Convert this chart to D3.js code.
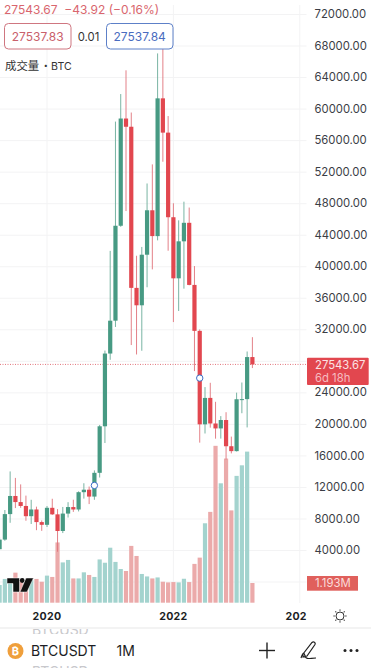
<!DOCTYPE html>
<html lang="en">
<head>
<meta charset="UTF-8">
<title>BTCUSDT 1M</title>
<script src="https://d3js.org/d3.v7.min.js"></script>
<style>
    html, body { margin: 0; padding: 0; background: #fff; overflow: hidden; }
    svg { display: block; }
    text { font-family: Inter, Roboto, "Noto Sans CJK SC", sans-serif; white-space: pre; }
    .price-axis text { font-size: 11.3px; fill: #3a3d45; }
    .time-axis text { font-size: 10.6px; font-weight: 700; fill: #1c1e24; letter-spacing: 0.3px; }
</style>
</head>
<body>
<div id="chart"></div>
<script>
// month index, 0 = Jan 2020
const months = d3.range(-9, 40);
const opens = [4102, 5320, 8555, 10854, 10080, 9587, 8289, 9140, 7541, 7195, 9352, 8523, 6412, 8620, 9448, 9138, 11335, 11649, 10776, 13791, 19695, 28923, 33092, 45135, 58739, 57697, 37253, 35045, 41461, 47100, 43820, 61300, 56950, 46217, 38466, 43160, 45510, 37630, 31801, 19942, 23296, 20048, 19423, 20490, 17165, 16542, 23125, 23142, 28478];
const highs = [5600, 9074, 13970, 13147, 12325, 10900, 10370, 9500, 7750, 9578, 10500, 9188, 9460, 10067, 10380, 11444, 12468, 12050, 14100, 19863, 29300, 41950, 58352, 61844, 64854, 59500, 41330, 42448, 50500, 52920, 67000, 69000, 59053, 47990, 45821, 48189, 47444, 40023, 31986, 24668, 25214, 22799, 20988, 21480, 18387, 23960, 25250, 29184, 31000];
const lows = [4096, 5173, 7450, 9320, 9350, 7710, 7300, 6515, 6430, 6914, 8445, 3782, 6150, 8117, 8833, 8893, 10518, 9825, 10371, 13195, 17572, 28130, 32296, 45000, 47000, 30000, 28805, 29278, 37332, 39600, 43283, 53256, 41967, 32917, 34322, 37155, 37578, 26700, 17622, 18781, 19520, 18125, 18132, 15476, 16256, 16499, 21351, 19549, 27080];
const closes = [5320, 8555, 10854, 10080, 9587, 8289, 9140, 7541, 7195, 9353, 8523, 6410, 8620, 9448, 9138, 11335, 11649, 10776, 13791, 19695, 28923, 33092, 45135, 58740, 57694, 37254, 35045, 41462, 47100, 43824, 61299, 56950, 46217, 38466, 43160, 45510, 37630, 31801, 19942, 23293, 20050, 19423, 20490, 17164, 16542, 23125, 23142, 28478, 27543.67];
// volume in millions (BTC)
const volumes = [1.07, 1.44, 1.45, 1.82, 1.3, 1.2, 1.37, 1.44, 1.27, 1.64, 1.56, 3.65, 2.44, 2.59, 1.47, 1.47, 1.84, 1.68, 1.56, 2.62, 2.42, 3.33, 2.47, 2.04, 1.92, 3.44, 2.83, 1.74, 1.59, 1.47, 1.53, 1.27, 1.23, 1.25, 1.23, 1.45, 1.25, 2.35, 2.73, 4.81, 5.5, 9.5, 7.23, 8.73, 5.59, 7.68, 8.32, 9.15, 1.193];
const priceTicks = d3.range(0, 72001, 4000);
// these two ticks are hidden behind the price and volume tags
const hiddenTicks = [0, 28000];
const yearTicks = [0, 24, 48];
const yearLabels = ["2020", "2022", "2024"];
// the two blue markers sit on these months and prices
const markerMonths = [9, 29];
const markerPrices = [12190, 25810];

const lastPrice = 27543.67;
const width = 374, height = 668;
const upColor = "#479a83", downColor = "#e2474f";
const upVol = "#a3d3ce", downVol = "#ebaaaa";
const gridColor = "#f3f3f4";
const axisLeft = 306.5;

const svg = d3.select("#chart").append("svg")
    .attr("width", width)
    .attr("height", height);

const x = d3.scaleLinear().domain([0, 24]).range([47, 173.4]);
const y = d3.scaleLinear().domain([4000, 72000]).range([550, 14]);
const yVol = d3.scaleLinear().domain([0, 1.193]).range([602.7, 583]);

const clip = svg.append("clipPath").attr("id", "plot");
clip.append("rect").attr("x", 0).attr("y", 0).attr("width", axisLeft).attr("height", 603);

// grid
svg.append("g")
    .selectAll("line")
    .data(yearTicks)
    .enter()
    .append("line")
    .attr("x1", d => x(d))
    .attr("x2", d => x(d))
    .attr("y1", 5)
    .attr("y2", 603)
    .attr("stroke", gridColor);

// price axis, ticks double as gridlines
const priceAxis = svg.append("g")
    .attr("class", "price-axis")
    .attr("transform", `translate(${axisLeft},0)`)
    .call(d3.axisLeft(y).tickValues(priceTicks).tickSize(axisLeft).tickPadding(0)
        .tickFormat(d => hiddenTicks.includes(d) ? "" : d3.format(".2f")(d)));
priceAxis.select(".domain").remove();
priceAxis.selectAll("line").attr("stroke", gridColor);
priceAxis.selectAll("text")
    .attr("x", 8)
    .attr("text-anchor", "start");

const plot = svg.append("g").attr("clip-path", "url(#plot)");

// volume
plot.selectAll(".vol")
    .data(months)
    .enter()
    .append("rect")
    .attr("class", "vol")
    .attr("x", d => x(d) - 2.1)
    .attr("width", 4.2)
    .attr("y", (d, i) => yVol(volumes[i]))
    .attr("height", (d, i) => yVol(0) - yVol(volumes[i]))
    .attr("fill", (d, i) => closes[i] >= opens[i] ? upVol : downVol);

// last price line
plot.append("line")
    .attr("x1", 0)
    .attr("x2", axisLeft)
    .attr("y1", y(lastPrice))
    .attr("y2", y(lastPrice))
    .attr("stroke", "#e2747b")
    .attr("stroke-dasharray", "1,1.5");

// wicks
plot.selectAll(".wick")
    .data(months)
    .enter()
    .append("line")
    .attr("class", "wick")
    .attr("x1", d => x(d))
    .attr("x2", d => x(d))
    .attr("y1", (d, i) => y(highs[i]))
    .attr("y2", (d, i) => y(lows[i]))
    .attr("stroke-width", 0.9)
    .attr("stroke", (d, i) => closes[i] >= opens[i] ? "#6aab99" : "#e0737a");

// bodies
plot.selectAll(".body")
    .data(months)
    .enter()
    .append("rect")
    .attr("class", "body")
    .attr("x", d => x(d) - 2.1)
    .attr("width", 4.2)
    .attr("y", (d, i) => y(Math.max(opens[i], closes[i])))
    .attr("height", (d, i) => Math.max(1, Math.abs(y(opens[i]) - y(closes[i]))))
    .attr("fill", (d, i) => closes[i] >= opens[i] ? upColor : downColor);

// blue markers
plot.selectAll(".marker")
    .data(markerMonths)
    .enter()
    .append("circle")
    .attr("class", "marker")
    .attr("cx", d => x(d))
    .attr("cy", (d, i) => y(markerPrices[i]))
    .attr("r", 3.2)
    .attr("fill", "#fff")
    .attr("stroke", "#3b6fc6")
    .attr("stroke-width", 1);

// tradingview logo
const logo = svg.append("g").attr("transform", "translate(7,578)");
logo.append("path").attr("d", "M0 0H12.5V14H6V5.5H0Z").attr("fill", "#111").attr("stroke", "#fff").attr("stroke-width", 0.5);
logo.append("circle").attr("cx", 15.2).attr("cy", 2.5).attr("r", 2.4).attr("fill", "#111");
logo.append("path").attr("d", "M19 0H26.5L20 14H13Z").attr("fill", "#111").attr("stroke", "#fff").attr("stroke-width", 0.5);

// last price tag
svg.append("rect").attr("x", 307).attr("y", 357.7).attr("width", 61.7).attr("height", 27.3).attr("rx", 1).attr("fill", "#e2474f");
svg.append("text").attr("x", 315).attr("y", 369).attr("font-size", 11.3).attr("fill", "#fbe3e4").text("27543.67");
svg.append("text").attr("x", 315).attr("y", 381.5).attr("font-size", 11.3).attr("fill", "#f6bcc0").text("6d 18h");

// volume tag
svg.append("rect").attr("x", 307).attr("y", 576).attr("width", 51).attr("height", 14.7).attr("fill", "#e0605c");
svg.append("text").attr("x", 315).attr("y", 587.3).attr("font-size", 11.3).attr("fill", "#fbdcda").text("1.193M");

// header
svg.append("text").attr("x", 4).attr("y", 14).attr("font-size", 12).attr("fill", "#d9666e").text("27543.67  −43.92 (−0.16%)");

svg.append("rect").attr("x", 4.5).attr("y", 23.5).attr("width", 66.5).attr("height", 25.5).attr("rx", 4).attr("fill", "#fff").attr("stroke", "#cf7680");
svg.append("text").attr("x", 37.7).attr("y", 40.5).attr("text-anchor", "middle").attr("font-size", 12).attr("fill", "#c9606b").text("27537.83");
svg.append("text").attr("x", 88.5).attr("y", 40.5).attr("text-anchor", "middle").attr("font-size", 11.3).attr("fill", "#333").text("0.01");
svg.append("rect").attr("x", 106.5).attr("y", 23.5).attr("width", 66.5).attr("height", 25.5).attr("rx", 4).attr("fill", "#fff").attr("stroke", "#5d80c8");
svg.append("text").attr("x", 139.7).attr("y", 40.5).attr("text-anchor", "middle").attr("font-size", 12).attr("fill", "#4a6cc0").text("27537.84");
const volTitle = svg.append("text").attr("x", 5).attr("y", 69.5).attr("fill", "#333");
volTitle.append("tspan").attr("font-size", 11.4).text("成交量");
volTitle.append("tspan").attr("x", 40.5).attr("font-size", 10.6).text("・BTC");

// time axis
const timeClip = svg.append("clipPath").attr("id", "timeclip");
timeClip.append("rect").attr("x", 0).attr("y", 603).attr("width", axisLeft).attr("height", 25);
const timeAxis = svg.append("g")
    .attr("class", "time-axis")
    .attr("clip-path", "url(#timeclip)");
timeAxis.selectAll("text")
    .data(yearTicks)
    .enter()
    .append("text")
    .attr("x", d => x(d))
    .attr("y", 620)
    .attr("text-anchor", "middle")
    .text((d, i) => yearLabels[i]);

// settings icon
const sun = svg.append("g").attr("transform", "translate(340,616)").attr("fill", "none").attr("stroke", "#333").attr("stroke-width", 1);
sun.append("circle").attr("r", 4);
d3.range(0, 360, 45).forEach(a => {
    sun.append("line").attr("y1", -5.2).attr("y2", -6.6).attr("transform", `rotate(${a})`);
});

// bottom bar
svg.append("line").attr("x1", 0).attr("x2", 371).attr("y1", 628).attr("y2", 628).attr("stroke", "#e8e8e8").attr("stroke-width", 1.2);

const ghostClip = svg.append("clipPath").attr("id", "ghost");
ghostClip.append("rect").attr("x", 0).attr("y", 629).attr("width", width).attr("height", 5);
ghostClip.append("rect").attr("x", 0).attr("y", 665.5).attr("width", width).attr("height", 3);
svg.append("g").attr("clip-path", "url(#ghost)").selectAll("text")
    .data([["BTCUSD", 634.5], ["BTCUSD", 677]])
    .enter()
    .append("text")
    .attr("x", 32)
    .attr("y", d => d[1])
    .attr("font-size", 14)
    .attr("fill", "#c8c8cc")
    .text(d => d[0]);

svg.append("circle").attr("cx", 15.5).attr("cy", 651).attr("r", 8).attr("fill", "#ef9f3c");
svg.append("text").attr("x", 15.5).attr("y", 655).attr("text-anchor", "middle").attr("font-size", 11).attr("font-weight", 700).attr("font-family", "DejaVu Sans").attr("fill", "#fff").text("₿");
svg.append("text").attr("x", 31).attr("y", 656).attr("font-size", 14).attr("fill", "#1c1e24").text("BTCUSDT");
svg.append("text").attr("x", 116.5).attr("y", 656).attr("font-size", 14).attr("fill", "#1c1e24").text("1M");

// toolbar icons
const plus = svg.append("g").attr("transform", "translate(267,650.5)").attr("stroke", "#222").attr("stroke-width", 1.4);
plus.append("line").attr("x1", -8).attr("x2", 8);
plus.append("line").attr("y1", -8).attr("y2", 8);
svg.append("path")
    .attr("d", "M301 658C303 652 304 652 305 656C306 660 310 658 316 658M303 654L312 642.5C313.5 641 316 642.5 315 644.5L307 656L303 657Z")
    .attr("fill", "none")
    .attr("stroke", "#222")
    .attr("stroke-width", 1.2);
svg.append("g").attr("fill", "#222").selectAll("circle")
    .data([345, 351, 357])
    .enter()
    .append("circle")
    .attr("cx", d => d)
    .attr("cy", 650.5)
    .attr("r", 1.5);
</script>
</body>
</html>
